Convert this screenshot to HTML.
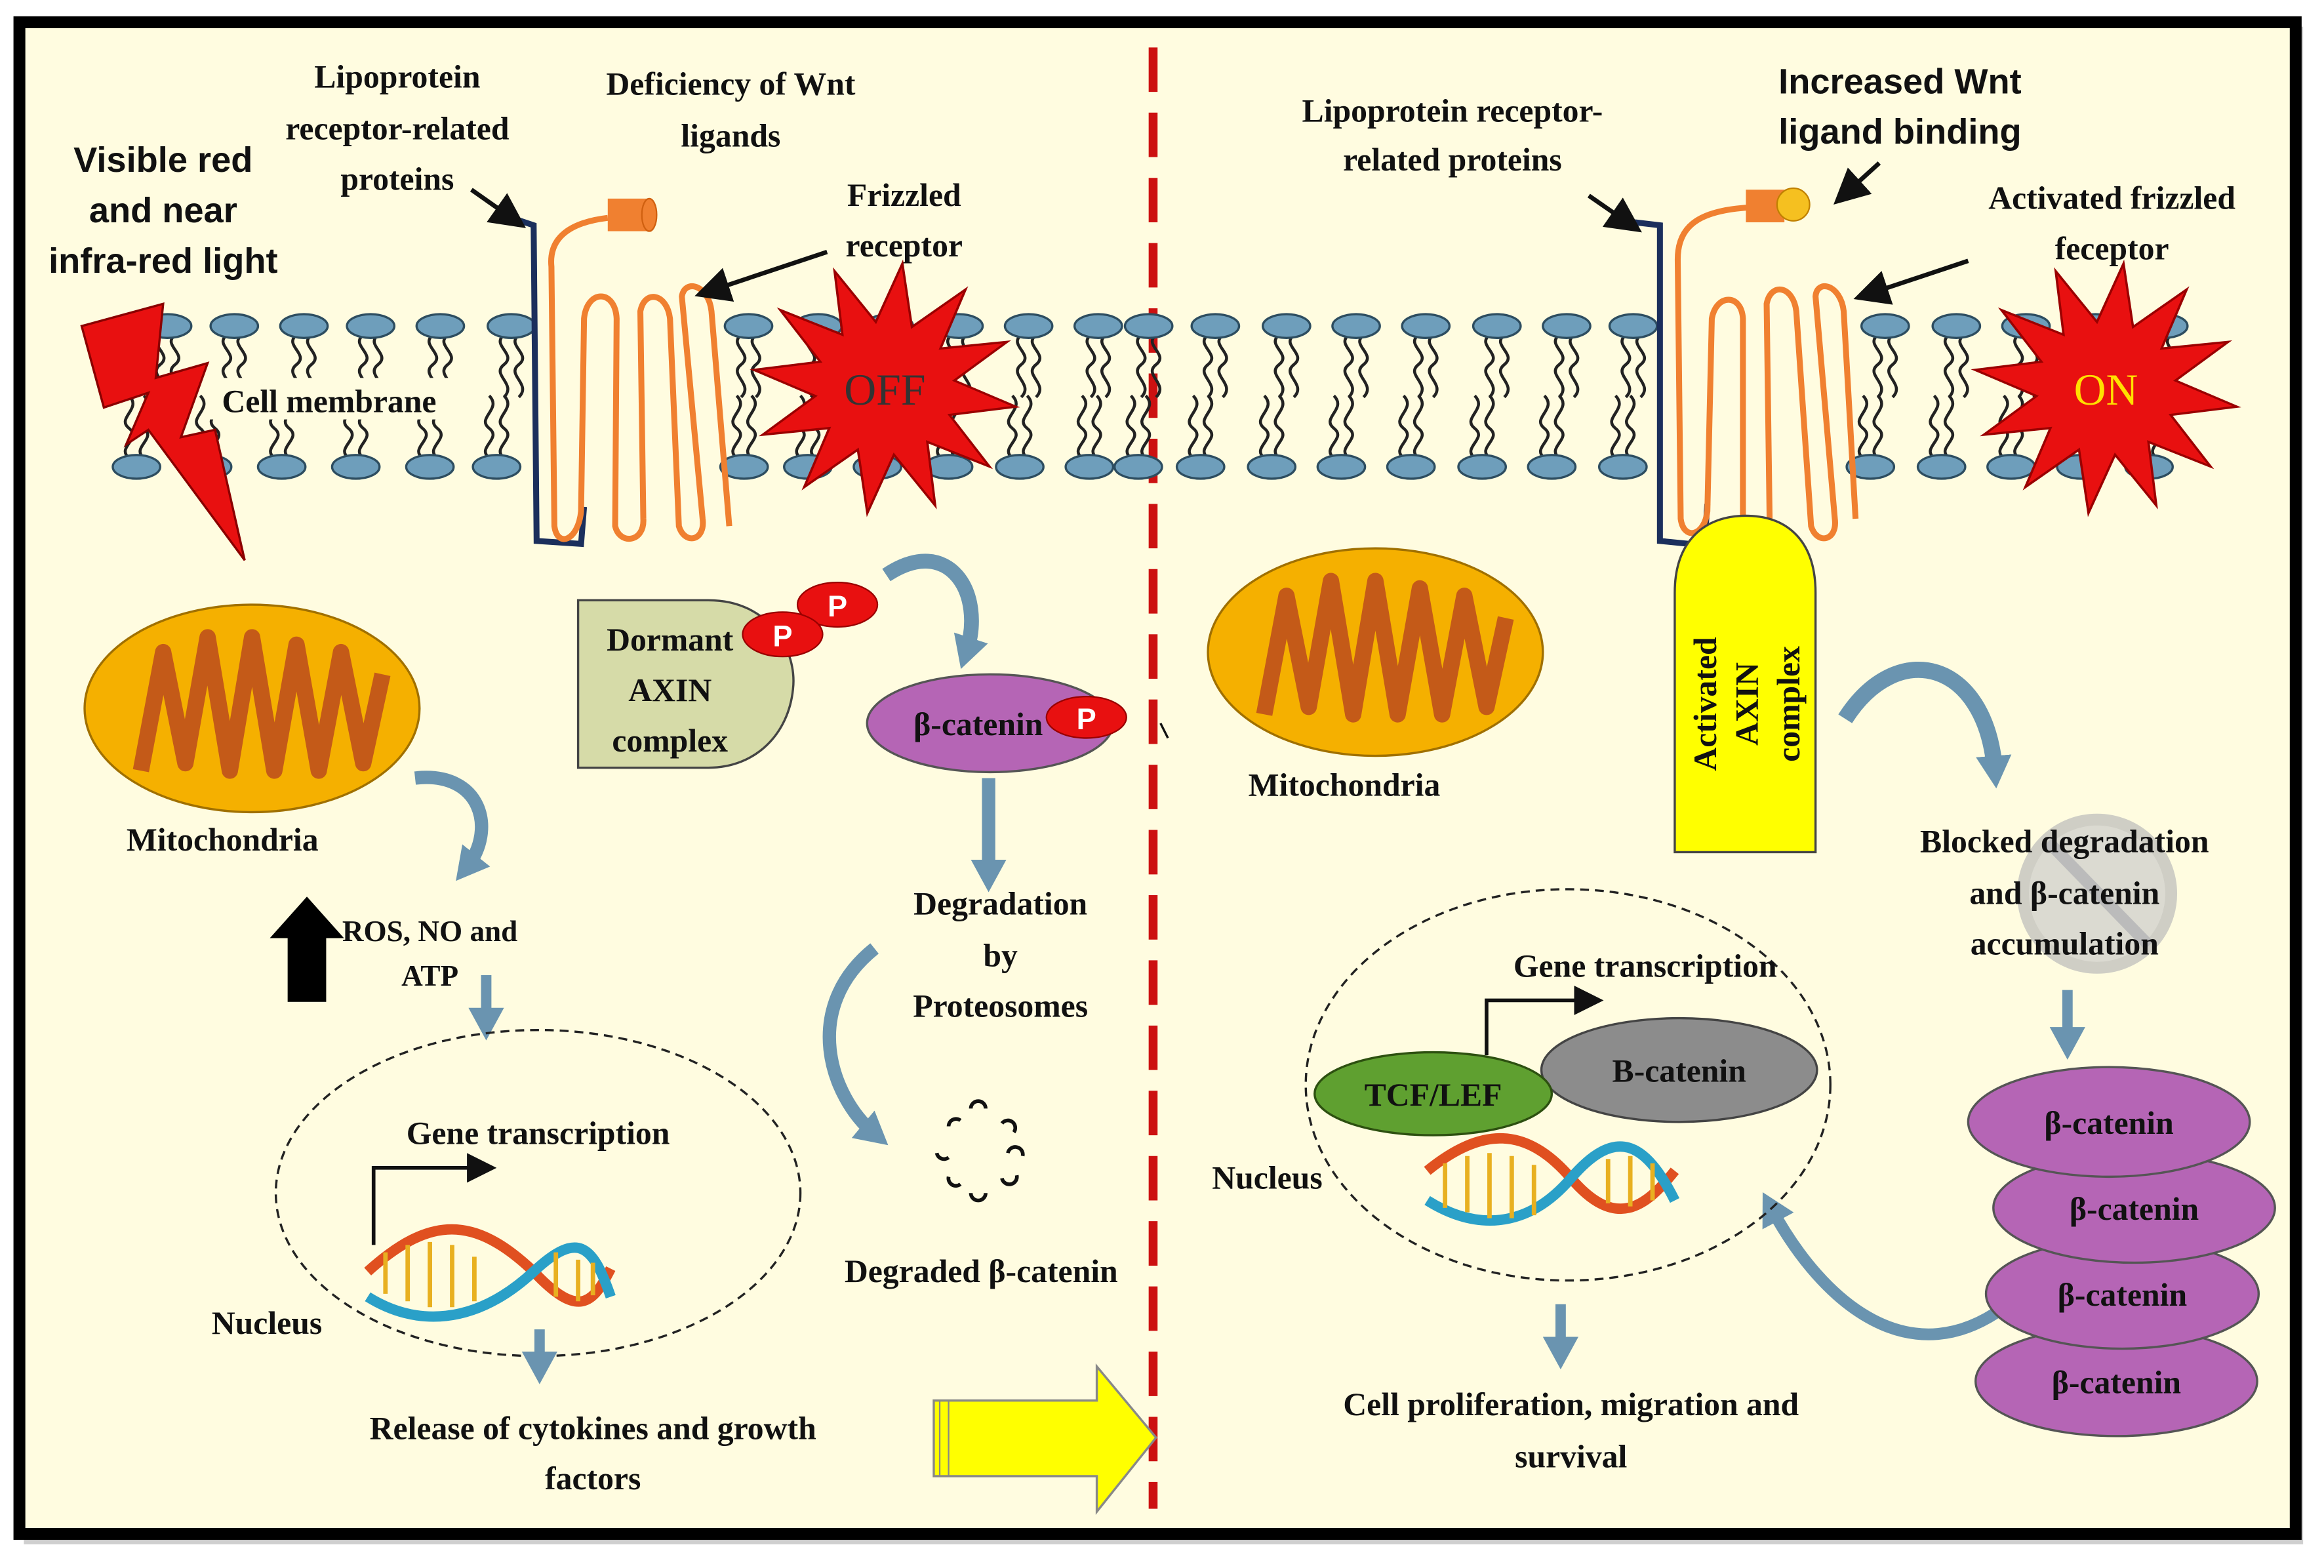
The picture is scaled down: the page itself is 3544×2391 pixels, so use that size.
<!DOCTYPE html>
<html><head><meta charset="utf-8"><style>
html,body{margin:0;padding:0;background:#fff;}
svg{display:block;}
.t{font-family:"Liberation Serif",serif;font-weight:bold;font-size:22px;fill:#111;text-anchor:middle;}
.s{font-family:"Liberation Sans",sans-serif;font-weight:bold;font-size:24px;fill:#111;text-anchor:middle;}
</style></head><body>
<svg width="3544" height="2391" viewBox="0 0 1568 1058" xmlns="http://www.w3.org/2000/svg">
<defs>
<g id="lt"><path d="M-5,6 c-9,7 9,13 0,20 c-9,7 9,13 0,22" fill="none" stroke="#222" stroke-width="2"/><path d="M5,6 c-9,7 9,13 0,20 c-9,7 9,13 0,22" fill="none" stroke="#222" stroke-width="2"/><ellipse cx="0" cy="0" rx="16" ry="8" fill="#6E9EBB" stroke="#2d4d60" stroke-width="1.5"/></g>
<g id="lb" transform="scale(1,-1)"><use href="#lt"/></g>
<polygon id="star" points="85,0 43.5,11.7 73.6,42.5 31.8,31.8 42.5,73.6 11.7,43.5 0,85 -11.7,43.5 -42.5,73.6 -31.8,31.8 -73.6,42.5 -43.5,11.7 -85,0 -43.5,-11.7 -73.6,-42.5 -31.8,-31.8 -42.5,-73.6 -11.7,-43.5 0,-85 11.7,-43.5 42.5,-73.6 31.8,-31.8 73.6,-42.5 43.5,-11.7" fill="#E81010" stroke="#9a0000" stroke-width="1.5"/>
<marker id="ab" markerWidth="8" markerHeight="8" refX="4" refY="4" orient="auto"><path d="M0,0 L8,4 L0,8z" fill="#111"/></marker>
<marker id="bl" markerUnits="userSpaceOnUse" markerWidth="24" markerHeight="24" refX="10" refY="12" orient="auto"><path d="M0,0 L22,12 L0,24z" fill="#6A94B0"/></marker>
</defs>
<rect x="0" y="0" width="1568" height="1058" fill="#fff"/>
<rect x="16" y="18" width="1538" height="1024" fill="#888" opacity="0.4"/>
<rect x="13" y="15" width="1536" height="1020" fill="#FFFCE0" stroke="#000" stroke-width="8"/>
<line x1="778" y1="32" x2="778" y2="1018" stroke="#CC1111" stroke-width="6" stroke-dasharray="30,14"/>

<g>
<use href="#lt" x="113" y="220"/><use href="#lt" x="158" y="220"/><use href="#lt" x="205" y="220"/><use href="#lt" x="250" y="220"/><use href="#lt" x="297" y="220"/><use href="#lt" x="345" y="220"/>
</g>
<g transform="translate(0,315)">
<use href="#lb" x="92"/><use href="#lb" x="140"/><use href="#lb" x="190"/><use href="#lb" x="240"/><use href="#lb" x="290"/><use href="#lb" x="335"/>
</g>
<g>
<use href="#lt" x="505" y="220"/><use href="#lt" x="552" y="220"/><use href="#lt" x="600" y="220"/><use href="#lt" x="647" y="220"/><use href="#lt" x="694" y="220"/><use href="#lt" x="741" y="220"/><use href="#lt" x="775" y="220"/><use href="#lt" x="820" y="220"/><use href="#lt" x="868" y="220"/><use href="#lt" x="915" y="220"/><use href="#lt" x="962" y="220"/><use href="#lt" x="1010" y="220"/><use href="#lt" x="1057" y="220"/><use href="#lt" x="1102" y="220"/>
<use href="#lt" x="1272" y="220"/><use href="#lt" x="1320" y="220"/><use href="#lt" x="1367" y="220"/><use href="#lt" x="1414" y="220"/><use href="#lt" x="1460" y="220"/>
</g>
<g transform="translate(0,315)">
<use href="#lb" x="502"/><use href="#lb" x="545"/><use href="#lb" x="592"/><use href="#lb" x="640"/><use href="#lb" x="688"/><use href="#lb" x="735"/><use href="#lb" x="768"/><use href="#lb" x="810"/><use href="#lb" x="858"/><use href="#lb" x="905"/><use href="#lb" x="952"/><use href="#lb" x="1000"/><use href="#lb" x="1047"/><use href="#lb" x="1095"/>
<use href="#lb" x="1262"/><use href="#lb" x="1310"/><use href="#lb" x="1357"/><use href="#lb" x="1404"/><use href="#lb" x="1450"/>
</g>
<rect x="140" y="255" width="170" height="28" fill="#FFFCE0"/>

<path d="M348,148 L360,152 L362,365 L392,367 L394,342" fill="none" stroke="#1B2F5C" stroke-width="4"/>
<path d="M410,147 C385,150 370,160 372,180 L374,355 C376,370 390,365 392,345 L394,215 C396,195 415,195 416,215 L415,355 C418,368 435,366 434,350 L432,210 C435,195 450,198 452,215 L458,355 C462,368 476,365 474,350 L460,200 C462,188 478,192 480,210 L492,355" fill="none" stroke="#F08030" stroke-width="4"/>
<rect x="410" y="134" width="28" height="22" fill="#F08030"/><ellipse cx="438" cy="145" rx="5" ry="11" fill="#F08030" stroke="#d06010"/>
<path d="M1103,150 L1120,152 L1120,365 L1150,368 L1152,340" fill="none" stroke="#1B2F5C" stroke-width="4"/>
<path d="M1180,140 C1150,142 1132,150 1132,175 L1134,350 C1136,365 1150,362 1152,345 L1155,215 C1158,198 1175,198 1176,215 L1176,355 C1180,368 1195,366 1194,350 L1192,205 C1195,190 1210,193 1212,210 L1222,355 C1226,368 1240,365 1238,350 L1225,200 C1226,188 1242,192 1244,210 L1252,350" fill="none" stroke="#F08030" stroke-width="4"/>
<rect x="1178" y="128" width="26" height="22" fill="#F08030"/><circle cx="1210" cy="138" r="11" fill="#F5C020" stroke="#c08000"/>

<use href="#star" transform="translate(597,262) rotate(8) scale(1.05,1)"/>
<text x="597" y="273" class="t" style="font-weight:normal;font-size:30px;fill:#333">OFF</text>
<use href="#star" transform="translate(1421,262) rotate(8) scale(1.05,1)"/>
<text x="1421" y="273" class="t" style="font-weight:normal;font-size:30px;fill:#FFE000">ON</text>

<polygon points="55,220 110,205 105,255 140,245 122,295 145,290 165,378 100,290 85,300 100,265 70,275" fill="#E81010" stroke="#8a0000" stroke-width="1.5"/>

<text class="s" x="110" y="116">Visible red</text><text class="s" x="110" y="150">and near</text><text class="s" x="110" y="184">infra-red light</text>
<text class="t" x="268" y="59">Lipoprotein</text><text class="t" x="268" y="94">receptor-related</text><text class="t" x="268" y="128">proteins</text>
<line x1="318" y1="128" x2="345" y2="147" stroke="#111" stroke-width="3" marker-end="url(#ab)"/>
<text class="t" x="493" y="64">Deficiency of Wnt</text><text class="t" x="493" y="99">ligands</text>
<text class="t" x="610" y="139">Frizzled</text><text class="t" x="610" y="173">receptor</text>
<line x1="558" y1="170" x2="480" y2="196" stroke="#111" stroke-width="3" marker-end="url(#ab)"/>
<text class="t" x="222" y="278">Cell membrane</text>
<text class="t" x="980" y="82">Lipoprotein receptor-</text><text class="t" x="980" y="115">related proteins</text>
<line x1="1072" y1="132" x2="1098" y2="150" stroke="#111" stroke-width="3" marker-end="url(#ab)"/>
<text class="s" x="1282" y="63">Increased Wnt</text><text class="s" x="1282" y="97">ligand binding</text>
<line x1="1268" y1="110" x2="1246" y2="130" stroke="#111" stroke-width="3" marker-end="url(#ab)"/>
<text class="t" x="1425" y="141">Activated frizzled</text><text class="t" x="1425" y="175">feceptor</text>
<line x1="1328" y1="176" x2="1262" y2="198" stroke="#111" stroke-width="3" marker-end="url(#ab)"/>

<ellipse cx="170" cy="478" rx="113" ry="70" fill="#F5B000" stroke="#a07000" stroke-width="1.5"/>
<polyline points="95,520 110,440 125,515 140,430 155,520 170,430 185,520 200,435 215,520 230,440 245,515 258,455" fill="none" stroke="#C45A18" stroke-width="11" stroke-linejoin="round"/>
<text class="t" x="150" y="574">Mitochondria</text>
<ellipse cx="928" cy="440" rx="113" ry="70" fill="#F5B000" stroke="#a07000" stroke-width="1.5"/>
<polyline points="853,482 868,402 883,477 898,392 913,482 928,392 943,482 958,397 973,482 988,402 1003,477 1016,417" fill="none" stroke="#C45A18" stroke-width="11" stroke-linejoin="round"/>
<text class="t" x="907" y="537">Mitochondria</text>

<path d="M390,405 L478,405 C520,405 538,440 535,465 C532,495 510,518 478,518 L390,518z" fill="#D6DBA8" stroke="#444" stroke-width="1.5"/>
<text class="t" x="452" y="439">Dormant</text><text class="t" x="452" y="473">AXIN</text><text class="t" x="452" y="507">complex</text>
<ellipse cx="565" cy="408" rx="27" ry="15" fill="#E81010" stroke="#900"/><text x="565" y="416" class="s" style="fill:#fff;font-size:20px">P</text>
<ellipse cx="528" cy="428" rx="27" ry="15" fill="#E81010" stroke="#900"/><text x="528" y="436" class="s" style="fill:#fff;font-size:20px">P</text>
<path d="M598,388 C640,360 665,400 652,440" fill="none" stroke="#6A94B0" stroke-width="10" marker-end="url(#bl)"/>
<ellipse cx="668" cy="488" rx="83" ry="33" fill="#B565B5" stroke="#555" stroke-width="1.5"/>
<text class="t" x="660" y="496">β-catenin</text>
<ellipse cx="733" cy="484" rx="27" ry="14" fill="#E81010" stroke="#900"/><text x="733" y="492" class="s" style="fill:#fff;font-size:20px">P</text>
<line x1="783" y1="488" x2="788" y2="498" stroke="#111" stroke-width="1.5"/>
<line x1="667" y1="525" x2="667" y2="590" stroke="#6A94B0" stroke-width="9" marker-end="url(#bl)"/>
<text class="t" x="675" y="617">Degradation</text><text class="t" x="675" y="652">by</text><text class="t" x="675" y="686">Proteosomes</text>
<path d="M590,640 C540,680 560,740 590,765" fill="none" stroke="#6A94B0" stroke-width="9" marker-end="url(#bl)"/>
<g fill="none" stroke="#111" stroke-width="2.5">
<path d="M655,748 a5,5 0 0 1 10,0"/><path d="M676,758 a5,5 0 0 1 8,6"/><path d="M640,760 a5,5 0 0 1 8,-4"/><path d="M632,778 a5,5 0 0 0 8,3"/><path d="M680,778 a5,5 0 0 1 10,2"/><path d="M640,794 a5,5 0 0 0 8,5"/><path d="M676,795 a5,5 0 0 0 10,-2"/><path d="M655,805 a5,5 0 0 0 10,0"/>
</g>
<text class="t" x="662" y="865">Degraded β-catenin</text>

<path d="M280,525 C325,520 335,560 315,585" fill="none" stroke="#6A94B0" stroke-width="9" marker-end="url(#bl)"/>
<polygon points="207,605 232,633 220,633 220,676 194,676 194,633 182,633" fill="#000"/>
<text class="t" x="290" y="635" style="font-size:20px">ROS, NO and</text><text class="t" x="290" y="665" style="font-size:20px">ATP</text>
<line x1="328" y1="658" x2="328" y2="690" stroke="#6A94B0" stroke-width="7" marker-end="url(#bl)"/>
<ellipse cx="363" cy="805" rx="177" ry="110" fill="none" stroke="#222" stroke-width="1.5" stroke-dasharray="6,4"/>
<text class="t" x="363" y="772">Gene transcription</text>
<path d="M252,840 L252,788 L325,788" fill="none" stroke="#111" stroke-width="2.5" marker-end="url(#ab)"/>
<g stroke-width="3">
<path d="M248,858 C290,820 320,820 360,858 C390,890 400,880 412,856" fill="none" stroke="#E05020" stroke-width="7"/>
<path d="M248,875 C280,895 320,895 360,858 C390,830 400,840 412,875" fill="none" stroke="#2AA0C8" stroke-width="7"/>
<path d="M260,845 v28 M275,840 v38 M290,838 v44 M305,840 v42 M320,848 v30 M375,845 v30 M390,850 v28 M400,852 v22" stroke="#E8B020"/>
</g>
<text class="t" x="180" y="900">Nucleus</text>
<line x1="364" y1="897" x2="364" y2="922" stroke="#6A94B0" stroke-width="7" marker-end="url(#bl)"/>
<text class="t" x="400" y="971">Release of cytokines and growth</text><text class="t" x="400" y="1005">factors</text>
<polygon points="630,945 740,945 740,922 780,970 740,1020 740,996 630,996" fill="#FFFF00" stroke="#888" stroke-width="1.5"/>
<line x1="634" y1="945" x2="634" y2="996" stroke="#888"/><line x1="640" y1="945" x2="640" y2="996" stroke="#888"/>

<path d="M1130,575 L1130,400 C1130,365 1150,348 1178,348 C1206,348 1225,365 1225,400 L1225,575z" fill="#FFFF00" stroke="#444" stroke-width="1.5"/>
<g transform="translate(1178,475) rotate(-90)">
<text class="t" x="0" y="-20">Activated</text><text class="t" x="0" y="8">AXIN</text><text class="t" x="0" y="36">complex</text>
</g>
<path d="M1245,485 C1280,430 1340,445 1346,520" fill="none" stroke="#6A94B0" stroke-width="11" marker-end="url(#bl)"/>
<circle cx="1415" cy="603" r="50" fill="#ccc" opacity="0.7" stroke="#bbb" stroke-width="8"/>
<line x1="1382" y1="568" x2="1450" y2="638" stroke="#bbb" stroke-width="8"/>
<text class="t" x="1393" y="575">Blocked degradation</text><text class="t" x="1393" y="610">and β-catenin</text><text class="t" x="1393" y="644">accumulation</text>
<line x1="1395" y1="668" x2="1395" y2="703" stroke="#6A94B0" stroke-width="7" marker-end="url(#bl)"/>
<path d="M1355,880 C1290,930 1230,880 1195,815" fill="none" stroke="#6A94B0" stroke-width="8" marker-end="url(#bl)"/>
<g fill="#B565B5" stroke="#555" stroke-width="1.5">
<ellipse cx="1428" cy="932" rx="95" ry="37"/><ellipse cx="1432" cy="873" rx="92" ry="37"/><ellipse cx="1440" cy="815" rx="95" ry="37"/><ellipse cx="1423" cy="757" rx="95" ry="37"/>
</g>
<text class="t" x="1423" y="765">β-catenin</text><text class="t" x="1440" y="823">β-catenin</text><text class="t" x="1432" y="881">β-catenin</text><text class="t" x="1428" y="940">β-catenin</text>

<ellipse cx="1058" cy="732" rx="177" ry="132" fill="none" stroke="#222" stroke-width="1.5" stroke-dasharray="6,4"/>
<text class="t" x="1110" y="659">Gene transcription</text>
<path d="M1003,712 L1003,675 L1072,675" fill="none" stroke="#111" stroke-width="2.5" marker-end="url(#ab)"/>
<ellipse cx="1133" cy="722" rx="93" ry="35" fill="#8C8C8C" stroke="#444" stroke-width="1.5"/>
<text class="t" x="1133" y="730">B-catenin</text>
<ellipse cx="967" cy="738" rx="80" ry="28" fill="#5FA030" stroke="#2d5010" stroke-width="1.5"/>
<text class="t" x="967" y="746">TCF/LEF</text>
<g>
<path d="M963,790 C1000,760 1030,760 1060,795 C1090,830 1110,815 1130,790" fill="none" stroke="#E05020" stroke-width="7"/>
<path d="M963,810 C995,830 1030,830 1060,795 C1090,760 1110,770 1130,810" fill="none" stroke="#2AA0C8" stroke-width="7"/>
<path d="M975,785 v30 M990,780 v38 M1005,778 v44 M1020,780 v42 M1035,786 v34 M1085,782 v30 M1100,780 v34 M1115,785 v25" stroke="#E8B020" stroke-width="3"/>
</g>
<text class="t" x="855" y="802">Nucleus</text>
<line x1="1053" y1="880" x2="1053" y2="912" stroke="#6A94B0" stroke-width="7" marker-end="url(#bl)"/>
<text class="t" x="1060" y="955">Cell proliferation, migration and</text><text class="t" x="1060" y="990">survival</text>
</svg>
</body></html>
